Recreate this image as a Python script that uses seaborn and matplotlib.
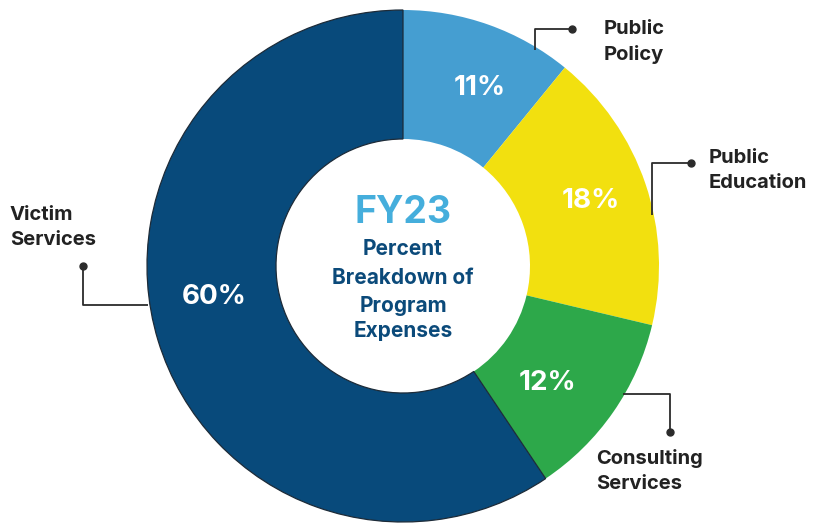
import matplotlib
matplotlib.use("Agg")
import matplotlib.pyplot as plt
import seaborn as sns

sns.set_theme(style="white")
plt.rcParams['font.family'] = ['Inter', 'DejaVu Sans']

categories = ["Public Policy", "Public Education", "Consulting Services", "Victim Services"]
label_lines = [["Public", "Policy"], ["Public", "Education"], ["Consulting", "Services"], ["Victim", "Services"]]
values = [11, 18, 12, 60]
pct_labels = ["11%", "18%", "12%", "60%"]
colors = ["#459ED1", "#F2E00F", "#2DA84A", "#084A7B"]

W, H = 814, 523
fig = plt.figure(figsize=(W / 100, H / 100), dpi=100)
ax = fig.add_axes([0, 0, 1, 1])

cx, cy = 403, H - 266
R = 256
wedges, _ = ax.pie(values, colors=colors, startangle=90, counterclock=False,
                   center=(cx, cy), radius=R, frame=True,
                   wedgeprops=dict(width=R - 127, linewidth=0))
wedges[3].set_edgecolor("#1d2b38")
wedges[3].set_linewidth(0.9)
ax.set_xlim(0, W)
ax.set_ylim(0, H)
ax.set_aspect('equal')
ax.axis('off')

# percent labels (pixel positions)
pct_pos = [(480, 88), (591, 201), (548, 383), (214, 297)]
for (x, y), t in zip(pct_pos, pct_labels):
    ax.text(x, H - y, t, color="white", fontsize=20, fontweight="bold",
            ha="center", va="center")

# center text
ax.text(cx, H - 213, "FY23", color="#45AEDC", fontsize=27, fontweight="bold",
        ha="center", va="center")
for y, t in zip([249, 278, 306, 331], ["Percent", "Breakdown of", "Program", "Expenses"]):
    ax.text(cx, H - y, t, color="#0B4A7A", fontsize=15, fontweight="bold",
            ha="center", va="center")

# category labels
lab_pos = [(604, 29), (709, 158), (596, 459), (10, 215)]
for (x, y), lines in zip(lab_pos, label_lines):
    ax.text(x, H - y, lines[0], color="#222222", fontsize=14.5, fontweight="bold",
            ha="left", va="center")
    ax.text(x, H - y - 25, lines[1], color="#222222", fontsize=14.5, fontweight="bold",
            ha="left", va="center")

# leader lines
lc = "#2b2b2b"
leaders = [
    ([572, 535, 535], [29, 29, 50], (572, 29)),
    ([691, 652, 652], [163, 163, 215], (691, 163)),
    ([623, 670, 670], [394, 394, 432], (670, 432)),
    ([83, 83, 148], [266, 305, 305], (83, 266)),
]
for xs, ys, dot in leaders:
    ax.plot(xs, [H - y for y in ys], color=lc, lw=1.3, solid_capstyle='butt')
    ax.plot(dot[0], H - dot[1], 'o', color=lc, ms=5)

fig.savefig("out.png", dpi=100)
